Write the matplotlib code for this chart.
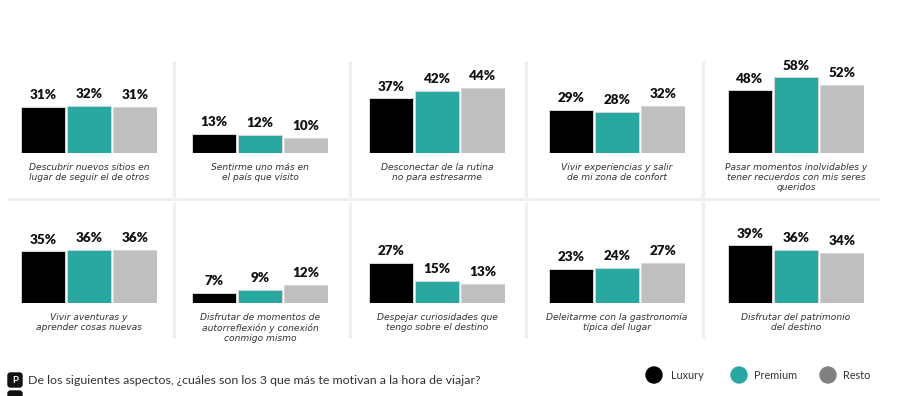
import matplotlib
matplotlib.use("Agg")
import matplotlib.pyplot as plt
from matplotlib.patches import Circle, FancyBboxPatch

# ---- data ----
series = ["Luxury", "Premium", "Resto"]
colors = ["#000000", "#29a7a1", "#bfbfbf"]
legend_colors = ["#000000", "#29a7a1", "#808080"]

row1_labels = [
    "Descubrir nuevos sitios en\nlugar de seguir el de otros",
    "Sentirme uno más en\nel país que visito",
    "Desconectar de la rutina\nno para estresarme",
    "Vivir experiencias y salir\nde mi zona de confort",
    "Pasar momentos inolvidables y\ntener recuerdos con mis seres\nqueridos",
]
row1_luxury = [31, 13, 37, 29, 48]
row1_premium = [32, 12, 42, 28, 58]
row1_resto = [31, 10, 44, 32, 52]

row2_labels = [
    "Vivir aventuras y\naprender cosas nuevas",
    "Disfrutar de momentos de\nautorreflexión y conexión\nconmigo mismo",
    "Despejar curiosidades que\ntengo sobre el destino",
    "Deleitarme con la gastronomía\ntípica del lugar",
    "Disfrutar del patrimonio\ndel destino",
]
row2_luxury = [35, 7, 27, 23, 39]
row2_premium = [36, 9, 15, 24, 36]
row2_resto = [36, 12, 13, 27, 34]

question = "De los siguientes aspectos, ¿cuáles son los 3 que más te motivan a la hora de viajar?"

# ---- layout (pixels) ----
W, H = 900, 396
fig = plt.figure(figsize=(W / 100, H / 100), dpi=100)
fig.patch.set_facecolor("white")

def px_rect(x, y_top, w, h):
    return [x / W, 1 - (y_top + h) / H, w / W, h / H]

# overlay for separators, legend, footer
ov = fig.add_axes([0, 0, 1, 1], zorder=0)
ov.set_xlim(0, W)
ov.set_ylim(H, 0)
ov.axis("off")

sep = "#efefef"
for x in [174, 350, 526, 703]:
    ov.plot([x, x], [61, 197], color=sep, lw=2.3, solid_capstyle="butt")
    ov.plot([x, x], [202, 338], color=sep, lw=2.3, solid_capstyle="butt")
ov.plot([7, 880], [199, 199], color=sep, lw=2.3, solid_capstyle="butt")

lefts = [21, 192, 369, 549, 728]
bw = 44 / 46
AX_H = 90

rows = [
    (row1_labels, [row1_luxury, row1_premium, row1_resto], 153, [61, 61, 61, 61, 69]),
    (row2_labels, [row2_luxury, row2_premium, row2_resto], 303, [61, 61, 61, 61, 61]),
]

for labels, vals, base, ymaxes in rows:
    for i in range(5):
        ax = fig.add_axes(px_rect(lefts[i], base - AX_H, 136, AX_H), zorder=2)
        ax.patch.set_alpha(0)
        for j in range(3):
            v = vals[j][i]
            ax.bar(j, v, width=bw, color=colors[j], edgecolor="#d6d6d6", lw=0.7)
            ax.annotate(f"{v}%", (j, v), xytext=(0, 4.2), textcoords="offset points",
                        ha="center", va="bottom", fontsize=9.7, fontweight="heavy",
                        family="Lato", color="#111111", annotation_clip=False)
        ax.annotate(labels[i], (1, 0), xytext=(0, -7.5), textcoords="offset points",
                    ha="center", va="top", fontsize=6.6, style="italic",
                    family="DejaVu Sans", color="#333333", linespacing=1.12,
                    annotation_clip=False)
        ax.set_xlim(-0.5 + (1 - bw) / 2, 2.5 - (1 - bw) / 2)
        ax.set_ylim(0, ymaxes[i])
        ax.axis("off")

# legend
lx = [654, 739, 828]
tx = [671, 754, 843]
for c, x, t, name in zip(legend_colors, lx, tx, series):
    ov.add_patch(Circle((x, 375), 8, color=c))
    ov.text(t, 375.5, name, ha="left", va="center", fontsize=7.8, family="Lato", color="#333333")

# footer question
ov.add_patch(FancyBboxPatch((8, 373), 14, 14, boxstyle="round,pad=0,rounding_size=2.5",
                            color="#111111"))
ov.text(15, 380.5, "P", ha="center", va="center", fontsize=7, fontweight="bold",
        family="Lato", color="white")
ov.text(28, 381, question, ha="left", va="center", fontsize=8.9, family="Lato", color="#333333")
ov.add_patch(FancyBboxPatch((8, 391), 14, 14, boxstyle="round,pad=0,rounding_size=2.5",
                            color="#111111"))

fig.savefig("out.png", dpi=100, facecolor="white")
